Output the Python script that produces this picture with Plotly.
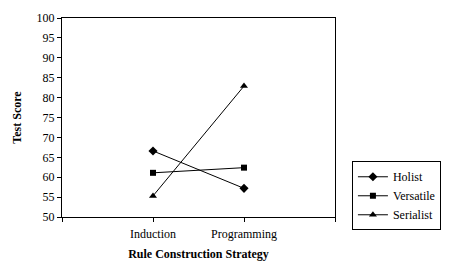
import plotly.graph_objects as go

categories = ["Induction", "Programming"]
cat_pos = [1, 2]
holist = [66.6, 57.2]
versatile = [61.1, 62.4]
serialist = [55.3, 82.9]
series_names = ["Holist", "Versatile", "Serialist"]
y_ticks = list(range(50, 101, 5))

symbols = ["diamond", "square", "triangle-up"]
sizes = [7, 6, 7]

fig = go.Figure()
for name, vals, sym, sz in zip(series_names, [holist, versatile, serialist], symbols, sizes):
    fig.add_trace(go.Scatter(
        x=cat_pos, y=vals, name=name, mode="lines+markers",
        line=dict(color="black", width=1),
        marker=dict(symbol=sym, size=sz, color="black"),
    ))

font = "Liberation Serif, Times New Roman, serif"
fig.update_layout(
    width=451, height=268,
    margin=dict(l=62, r=116, t=18, b=51, autoexpand=False),
    paper_bgcolor="white", plot_bgcolor="white",
    font=dict(family=font, size=12, color="black"),
    showlegend=True,
    legend=dict(
        x=1.062, y=0.28, xanchor="left", yanchor="top",
        bordercolor="black", borderwidth=1, bgcolor="white",
        font=dict(family=font, size=12, color="black"),
        tracegroupgap=0, itemwidth=30,
    ),
    xaxis=dict(
        range=[0, 3], tickmode="array", tickvals=[0, 1, 2, 3],
        ticktext=["", categories[0], categories[1], ""],
        showgrid=False, zeroline=False, showline=True, linecolor="black",
        linewidth=1, mirror=True, ticks="outside", ticklen=4, tickcolor="black",
        ticklabelstandoff=2, automargin=False,
        title=dict(text="<b>Rule Construction Strategy</b>", font=dict(family=font, size=12), standoff=9),
        fixedrange=True,
    ),
    yaxis=dict(
        range=[50, 100], tickmode="array", tickvals=y_ticks,
        showgrid=False, zeroline=False, showline=True, linecolor="black",
        linewidth=1, mirror=True, ticks="outside", ticklen=4, tickcolor="black",
        automargin=False,
        title=dict(text="<b>Test Score</b>", font=dict(family=font, size=12), standoff=12),
        fixedrange=True,
    ),
)

fig.write_html("out.html")
